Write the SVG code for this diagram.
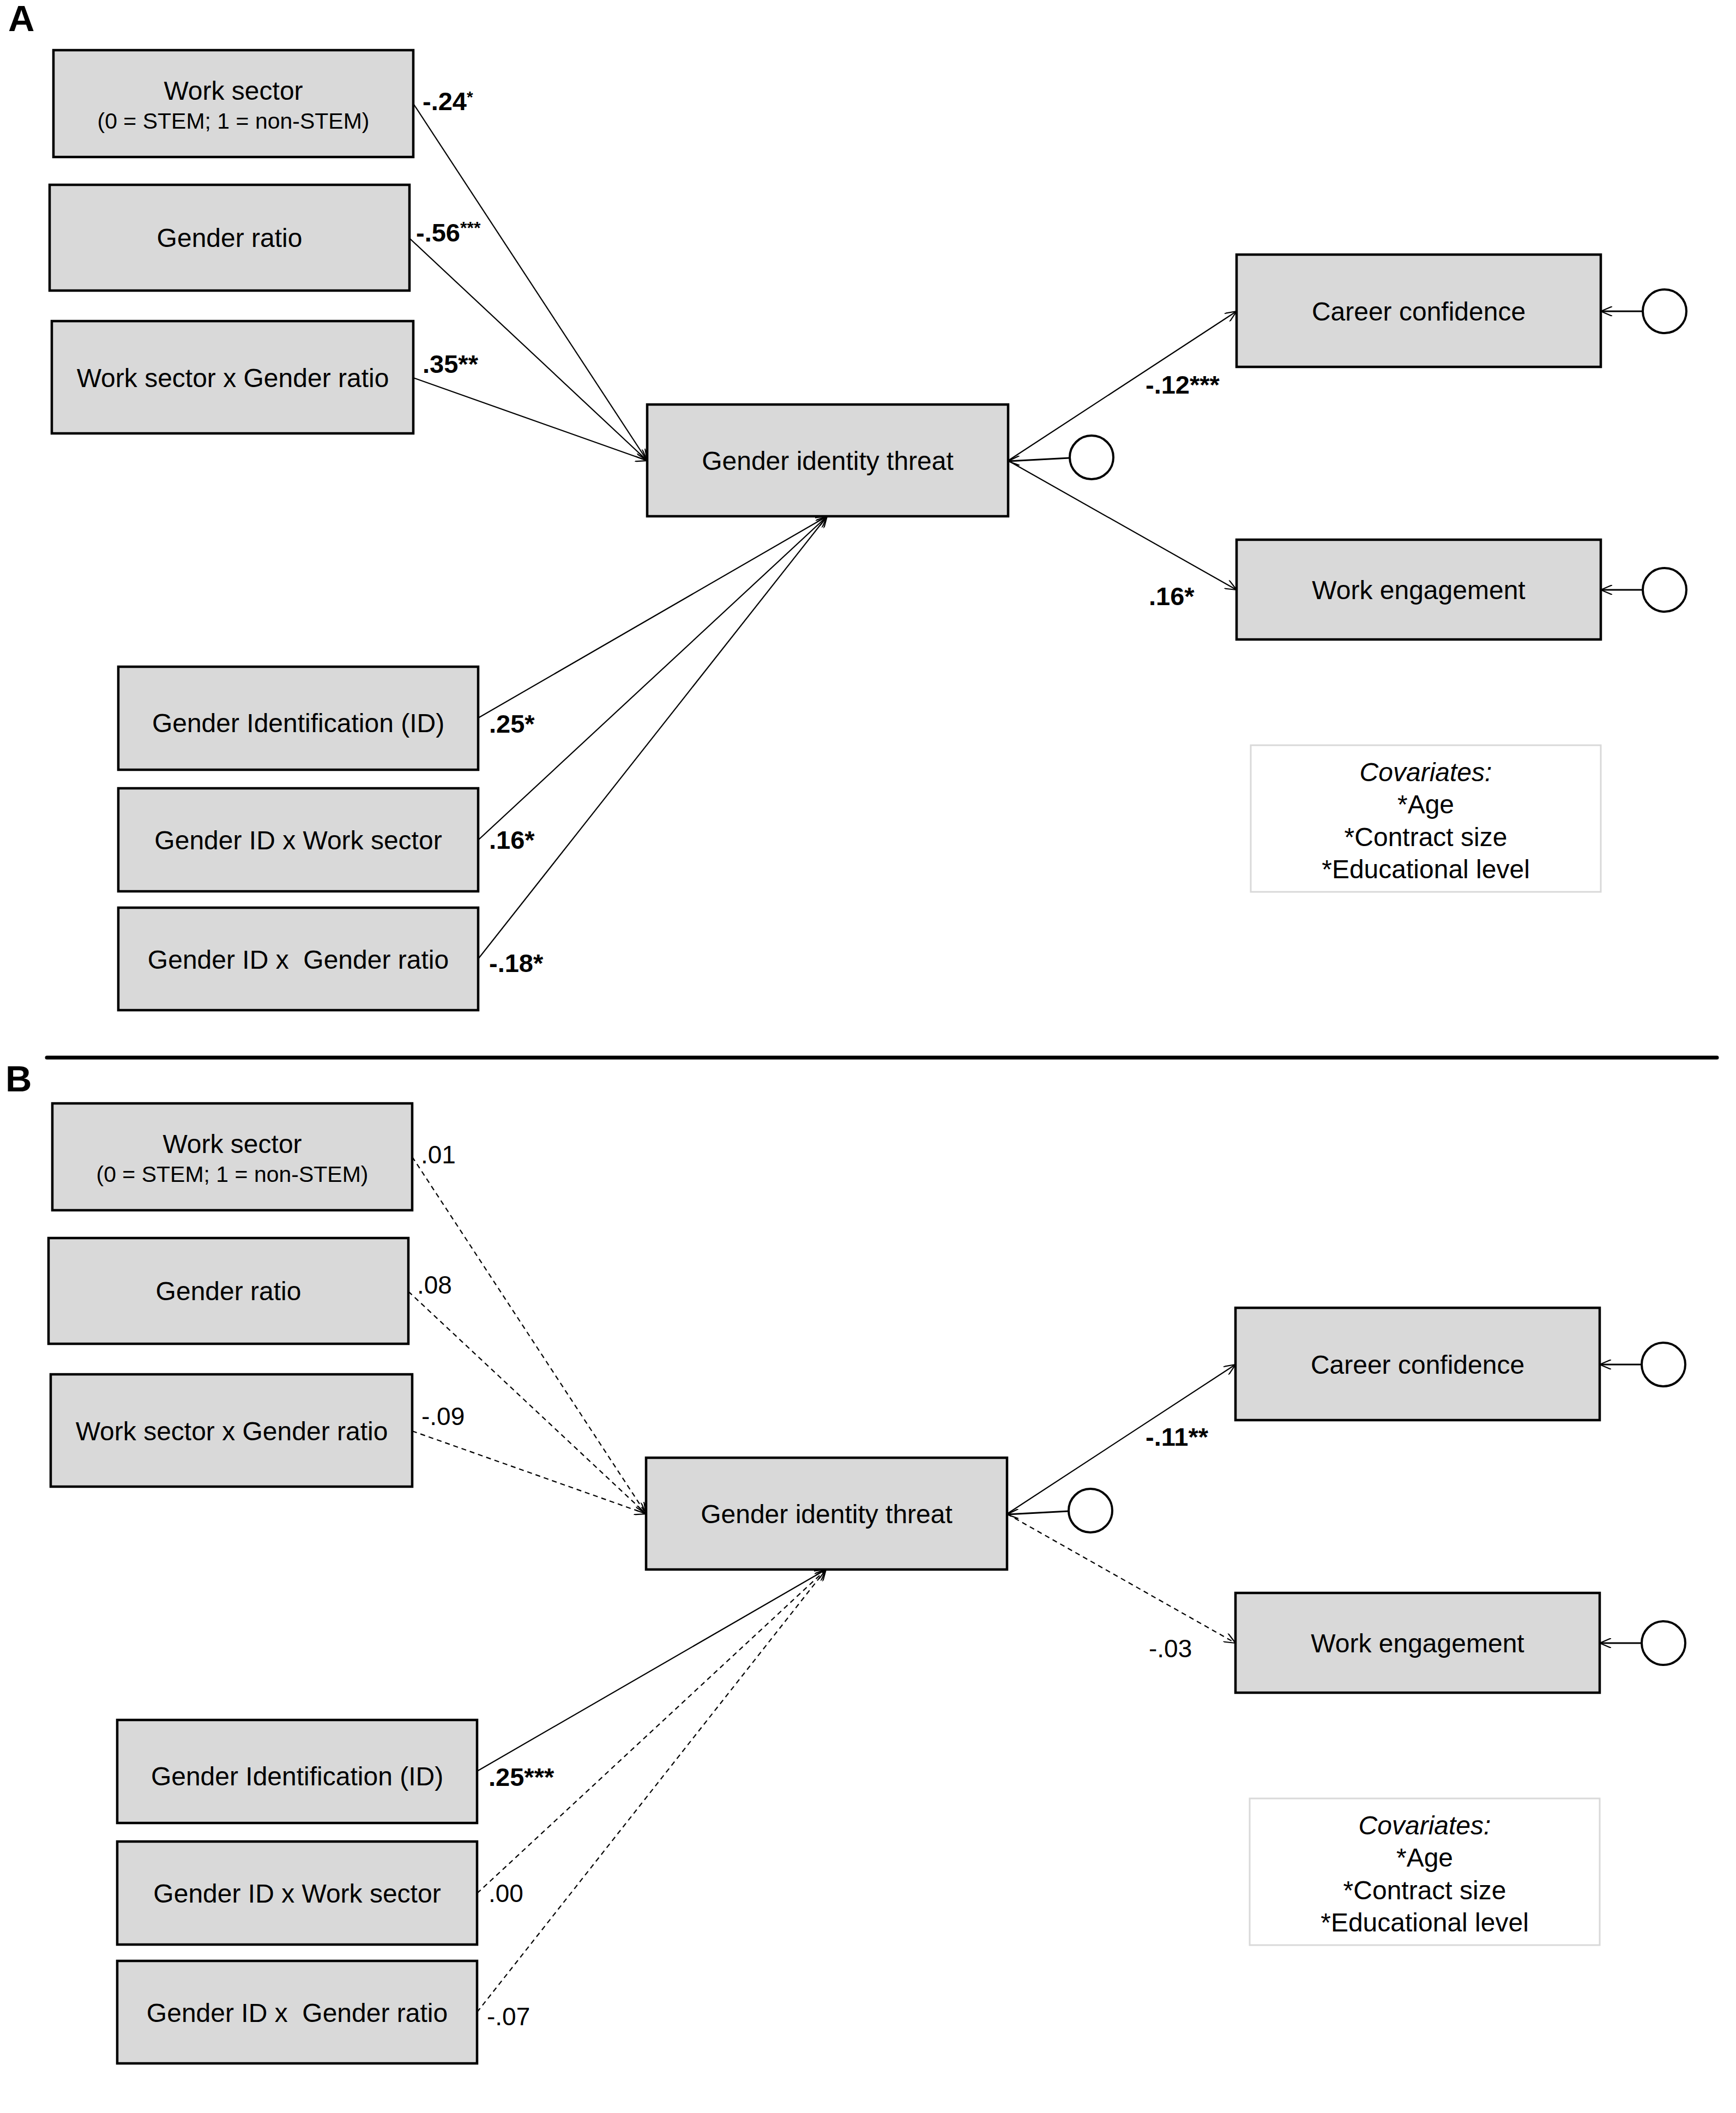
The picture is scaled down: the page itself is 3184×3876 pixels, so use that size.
<svg xmlns="http://www.w3.org/2000/svg" width="3184" height="3876" viewBox="0 0 3184 3876">
<style>
.bg{fill:#fff}
.box{fill:#d9d9d9;stroke:#000;stroke-width:4.5}
.cov{fill:#fff;stroke:#d9d9d9;stroke-width:3}
.t{font-family:"Liberation Sans",Arial,sans-serif;font-size:48px;text-anchor:middle;fill:#000}
.ts{font-size:41px}
.it{font-style:italic}
.lb{font-family:"Liberation Sans",Arial,sans-serif;font-size:47px;font-weight:bold;fill:#000}
.lr{font-family:"Liberation Sans",Arial,sans-serif;font-size:46px;fill:#000}
.pl{font-family:"Liberation Sans",Arial,sans-serif;font-size:67px;font-weight:bold;fill:#000}
.c{fill:#fff;stroke:#000;stroke-width:4}
.e{stroke:#000;stroke-width:2.2;fill:none;marker-end:url(#ah)}
.d{stroke-dasharray:9 7}
.r{stroke-width:3}
</style>
<defs>
<marker id="ah" viewBox="0 0 22 18" refX="21" refY="9" markerWidth="22" markerHeight="18" orient="auto" markerUnits="userSpaceOnUse">
<path d="M0,0 L21,9 L0,18" fill="none" stroke="#000" stroke-width="2.2"/>
</marker>
</defs>
<rect class="bg" x="0" y="0" width="3184" height="3876"/>

<text class="pl" x="15" y="57">A</text>
<line x1="86" y1="1940" x2="3149" y2="1940" stroke="#000" stroke-width="7" stroke-linecap="round"/>
<text class="pl" x="10" y="2002">B</text>

<!-- Panel A connectors -->
<g id="connectors-a">
<line class="e" x1="758" y1="190" x2="1187" y2="845"/>
<line class="e" x1="751" y1="437" x2="1187" y2="845"/>
<line class="e" x1="758" y1="693" x2="1187" y2="845"/>
<line class="e" x1="877" y1="1317" x2="1517" y2="947"/>
<line class="e" x1="877" y1="1541" x2="1517" y2="947"/>
<line class="e" x1="877" y1="1759" x2="1517" y2="947"/>
<line class="e" x1="1849" y1="845" x2="2268" y2="571"/>
<line class="e" x1="1849" y1="845" x2="2268" y2="1082"/>
<line class="e r" x1="1962" y1="840" x2="1849" y2="846"/>
<line class="e r" x1="3013" y1="571" x2="2936" y2="571"/>
<line class="e r" x1="3013" y1="1082" x2="2936" y2="1082"/>
</g>

<!-- Panel A nodes -->
<g id="a-work-sector"><rect class="box" x="98" y="92" width="660" height="196"/>
<text class="t" x="428" y="183">Work sector</text><text class="t ts" x="428" y="236">(0 = STEM; 1 = non-STEM)</text></g>
<g id="a-gender-ratio"><rect class="box" x="91" y="339" width="660" height="194"/><text class="t" x="421" y="453">Gender ratio</text></g>
<g id="a-ws-x-gr"><rect class="box" x="95" y="589" width="663" height="206"/><text class="t" x="427" y="710">Work sector x Gender ratio</text></g>
<g id="a-git"><rect class="box" x="1187" y="742" width="662" height="205"/><text class="t" x="1518" y="862">Gender identity threat</text></g>
<g id="a-cc"><rect class="box" x="2268" y="467" width="668" height="206"/><text class="t" x="2602" y="588">Career confidence</text></g>
<g id="a-we"><rect class="box" x="2268" y="990" width="668" height="183"/><text class="t" x="2602" y="1099">Work engagement</text></g>
<g id="a-gid"><rect class="box" x="217" y="1223" width="660" height="189"/><text class="t" x="547" y="1343">Gender Identification (ID)</text></g>
<g id="a-gid-ws"><rect class="box" x="217" y="1446" width="660" height="189"/><text class="t" x="547" y="1558">Gender ID x Work sector</text></g>
<g id="a-gid-gr"><rect class="box" x="217" y="1665" width="660" height="188"/><text class="t" x="547" y="1777" xml:space="preserve">Gender ID x  Gender ratio</text></g>
<g id="a-res-git"><circle class="c" cx="2002" cy="839" r="40"/></g>
<g id="a-res-cc"><circle class="c" cx="3053" cy="571" r="40"/></g>
<g id="a-res-we"><circle class="c" cx="3053" cy="1082" r="40"/></g>
<g id="a-covariates"><rect class="cov" x="2294" y="1367" width="642" height="269"/>
<text class="t it" x="2615" y="1433">Covariates:</text>
<text class="t" x="2615" y="1492">*Age</text>
<text class="t" x="2615" y="1552">*Contract size</text>
<text class="t" x="2615" y="1611">*Educational level</text></g>

<!-- Panel A labels -->
<g id="labels-a">
<text class="lb" x="775" y="202">-.24<tspan font-size="30" dy="-14">*</tspan></text>
<text class="lb" x="763" y="443">-.56<tspan font-size="32" dy="-14">***</tspan></text>
<text class="lb" x="775" y="684">.35**</text>
<text class="lb" x="2101" y="722">-.12***</text>
<text class="lb" x="2107" y="1110">.16*</text>
<text class="lb" x="897" y="1344">.25*</text>
<text class="lb" x="897" y="1557">.16*</text>
<text class="lb" x="897" y="1783">-.18*</text>
</g>

<!-- Panel B connectors -->
<g id="connectors-b">
<line class="e d" x1="756" y1="2122" x2="1185" y2="2777"/>
<line class="e d" x1="749" y1="2369" x2="1185" y2="2777"/>
<line class="e d" x1="756" y1="2625" x2="1185" y2="2777"/>
<line class="e" x1="875" y1="3249" x2="1515" y2="2879"/>
<line class="e d" x1="875" y1="3473" x2="1515" y2="2879"/>
<line class="e d" x1="875" y1="3691" x2="1515" y2="2879"/>
<line class="e" x1="1847" y1="2777" x2="2266" y2="2503"/>
<line class="e d" x1="1847" y1="2777" x2="2266" y2="3014"/>
<line class="e r" x1="1960" y1="2772" x2="1847" y2="2778"/>
<line class="e r" x1="3011" y1="2503" x2="2934" y2="2503"/>
<line class="e r" x1="3011" y1="3014" x2="2934" y2="3014"/>
</g>

<!-- Panel B nodes -->
<g id="b-work-sector"><rect class="box" x="96" y="2024" width="660" height="196"/>
<text class="t" x="426" y="2115">Work sector</text><text class="t ts" x="426" y="2168">(0 = STEM; 1 = non-STEM)</text></g>
<g id="b-gender-ratio"><rect class="box" x="89" y="2271" width="660" height="194"/><text class="t" x="419" y="2385">Gender ratio</text></g>
<g id="b-ws-x-gr"><rect class="box" x="93" y="2521" width="663" height="206"/><text class="t" x="425" y="2642">Work sector x Gender ratio</text></g>
<g id="b-git"><rect class="box" x="1185" y="2674" width="662" height="205"/><text class="t" x="1516" y="2794">Gender identity threat</text></g>
<g id="b-cc"><rect class="box" x="2266" y="2399" width="668" height="206"/><text class="t" x="2600" y="2520">Career confidence</text></g>
<g id="b-we"><rect class="box" x="2266" y="2922" width="668" height="183"/><text class="t" x="2600" y="3031">Work engagement</text></g>
<g id="b-gid"><rect class="box" x="215" y="3155" width="660" height="189"/><text class="t" x="545" y="3275">Gender Identification (ID)</text></g>
<g id="b-gid-ws"><rect class="box" x="215" y="3378" width="660" height="189"/><text class="t" x="545" y="3490">Gender ID x Work sector</text></g>
<g id="b-gid-gr"><rect class="box" x="215" y="3597" width="660" height="188"/><text class="t" x="545" y="3709" xml:space="preserve">Gender ID x  Gender ratio</text></g>
<g id="b-res-git"><circle class="c" cx="2000" cy="2771" r="40"/></g>
<g id="b-res-cc"><circle class="c" cx="3051" cy="2503" r="40"/></g>
<g id="b-res-we"><circle class="c" cx="3051" cy="3014" r="40"/></g>
<g id="b-covariates"><rect class="cov" x="2292" y="3299" width="642" height="269"/>
<text class="t it" x="2613" y="3365">Covariates:</text>
<text class="t" x="2613" y="3424">*Age</text>
<text class="t" x="2613" y="3484">*Contract size</text>
<text class="t" x="2613" y="3543">*Educational level</text></g>

<!-- Panel B labels -->
<g id="labels-b">
<text class="lr" x="772" y="2134">.01</text>
<text class="lr" x="765" y="2373">.08</text>
<text class="lr" x="773" y="2614">-.09</text>
<text class="lb" x="2101" y="2652">-.11**</text>
<text class="lr" x="2107" y="3040">-.03</text>
<text class="lb" x="896" y="3276">.25***</text>
<text class="lr" x="896" y="3489">.00</text>
<text class="lr" x="893" y="3715">-.07</text>
</g>
</svg>
